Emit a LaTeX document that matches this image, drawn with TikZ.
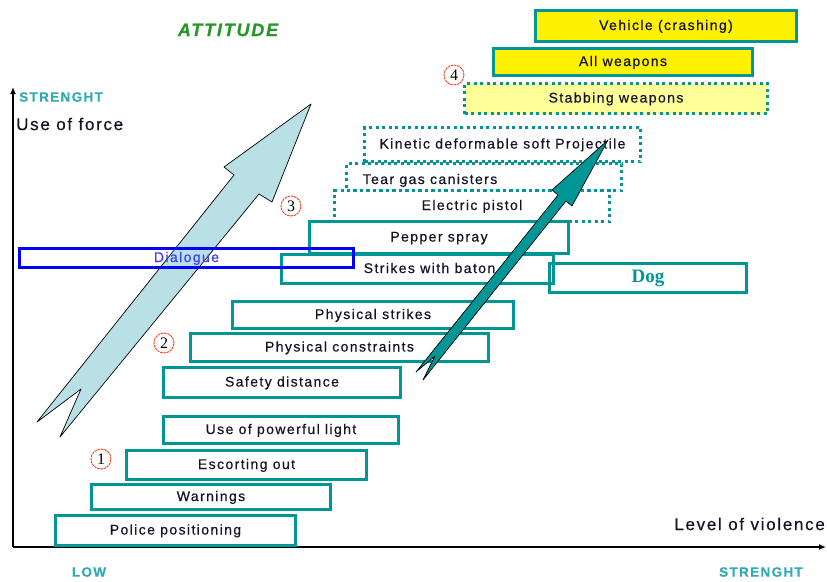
\documentclass[tikz,border=0pt]{standalone}
\usepackage{fontspec}
\usetikzlibrary{arrows.meta}
\setmainfont{Liberation Sans}
\newfontfamily\spacedfont[LetterSpace=10,FakeBold=0.5]{Liberation Sans}
\newfontfamily\numfont{Liberation Serif}

\definecolor{stairteal}{RGB}{0,150,150}
\definecolor{dlgblue}{RGB}{0,0,255}
\definecolor{dlgtext}{RGB}{60,60,255}
\definecolor{skyfill}{RGB}{185,224,228}
\definecolor{attgreen}{RGB}{40,150,40}
\definecolor{axisteal}{RGB}{50,170,180}
\definecolor{paleyellow}{RGB}{255,255,153}
\definecolor{ringred}{RGB}{255,60,20}
\definecolor{inkdark}{RGB}{20,20,40}

\tikzset{
  stair/.style={rectangle, draw=stairteal, line width=3.2pt, inner sep=0pt,
    text=inkdark, text height=10pt, text depth=2pt,
    font=\spacedfont\fontsize{14}{16}\selectfont},
  dotstair/.style={stair, line width=3pt, dash pattern=on 3pt off 3.5pt},
  ring/.style={circle, draw=ringred, line width=0.9pt, dash pattern=on 2.5pt off 0.8pt,
    minimum size=20pt, inner sep=0pt, font=\numfont\fontsize{16}{16}\selectfont},
  axislabel/.style={text=axisteal, inner sep=0pt,
    font=\spacedfont\bfseries\fontsize{13.5}{15}\selectfont},
  axistitle/.style={text=inkdark, inner sep=0pt,
    font=\spacedfont\fontsize{17}{19}\selectfont},
  axisline/.style={line width=1.6pt, -{Latex[length=7pt,width=6pt]}},
  bigarrow/.style={draw=black, line width=0.7pt, line join=round},
}

\begin{document}
\begin{tikzpicture}[x=1pt,y=-1pt]
\useasboundingbox (0,0) rectangle (827,581);

% axes
\coordinate (o) at (13,547);
\coordinate (ytop) at (13,87);
\coordinate (xend) at (826,547);
\draw[axisline] (o) -- (ytop);
\draw[axisline] (o) -- (xend);

\node[text=attgreen, inner sep=0pt,
  font=\spacedfont\bfseries\itshape\fontsize{18}{20}\selectfont] (title) at (228,30) {ATTITUDE};
\node[axislabel, anchor=west] (ystr) at (19,97) {STRENGHT};
\node[axistitle, anchor=west] (yname) at (16,124) {Use of force};
\node[axistitle, anchor=east] (xname) at (825,524) {Level of violence};
\node[axislabel] (low) at (89,572) {LOW};
\node[axislabel] (xstr) at (761,572) {STRENGHT};

% broad arrow: attitude rising with force
\path[bigarrow, fill=skyfill]
  (311,104) -- (272,202) -- (259,194) -- (60,437) -- (81,389)
  -- (37,422) -- (234,175) -- (224,167) -- cycle;

% steps of the escalation ladder
\node[stair, minimum width=240pt, minimum height=30pt] (police) at (175.5,530.5) {Police positioning};
\node[stair, minimum width=239pt, minimum height=25pt] (warn) at (211,497) {Warnings};
\node[stair, minimum width=240pt, minimum height=29pt] (escort) at (246.5,465) {Escorting out};
\node[stair, minimum width=235pt, minimum height=27pt] (light) at (281,430) {Use of powerful light};
\node[stair, minimum width=237pt, minimum height=30pt] (safety) at (282,382.5) {Safety distance};
\node[stair, minimum width=298pt, minimum height=28pt] (constr) at (339.5,347.5) {Physical constraints};
\node[stair, minimum width=281pt, minimum height=27pt] (pstrike) at (373,315) {Physical strikes};
\node[stair, minimum width=272pt, minimum height=29pt,
  label={[stair, draw=none, xshift=12pt]center:Strikes with baton}] (baton) at (417.5,269) {};
\node[stair, minimum width=259pt, minimum height=32pt] (pepper) at (439,237.5) {Pepper spray};
\node[dotstair, minimum width=275pt, minimum height=31pt] (pistol) at (472,206) {Electric pistol};
\node[dotstair, minimum width=275pt, minimum height=27pt,
  label={[stair, draw=none, xshift=-54pt, yshift=-3pt]center:Tear gas canisters}] (teargas) at (484,177) {};
\node[dotstair, minimum width=276pt, minimum height=34pt] (kinetic) at (502.5,144.5) {Kinetic deformable soft Projectile};
\node[dotstair, fill=paleyellow, minimum width=303pt, minimum height=30pt] (stab) at (616,98.5) {Stabbing weapons};
\node[stair, fill=yellow, minimum width=259pt, minimum height=27pt] (allweap) at (623,62) {All weapons};
\node[stair, fill=yellow, minimum width=261pt, minimum height=31pt] (vehicle) at (666,26) {Vehicle (crashing)};

\node[stair, line width=2.8pt, minimum width=197pt, minimum height=29pt, text=stairteal,
  font=\numfont\bfseries\fontsize{19}{20}\selectfont] (dog) at (648,278) {Dog};

\node[rectangle, draw=dlgblue, line width=3pt, inner sep=0pt, text=dlgtext,
  minimum width=334pt, minimum height=19pt, text height=10pt, text depth=2pt,
  font=\spacedfont\fontsize{14}{16}\selectfont] (dialogue) at (186.5,258) {Dialogue};

% narrow arrow: means of force rising with violence
\path[bigarrow, fill=stairteal]
  (608,140) -- (572,206) -- (566,201) -- (423,380) -- (435,356)
  -- (416,372) -- (558,195) -- (552,190) -- cycle;

% level markers
\node[ring] (m1) at (101,459) {1};
\node[ring] (m2) at (164,343) {2};
\node[ring] (m3) at (291,206) {3};
\node[ring] (m4) at (454,75) {4};
\end{tikzpicture}
\end{document}
